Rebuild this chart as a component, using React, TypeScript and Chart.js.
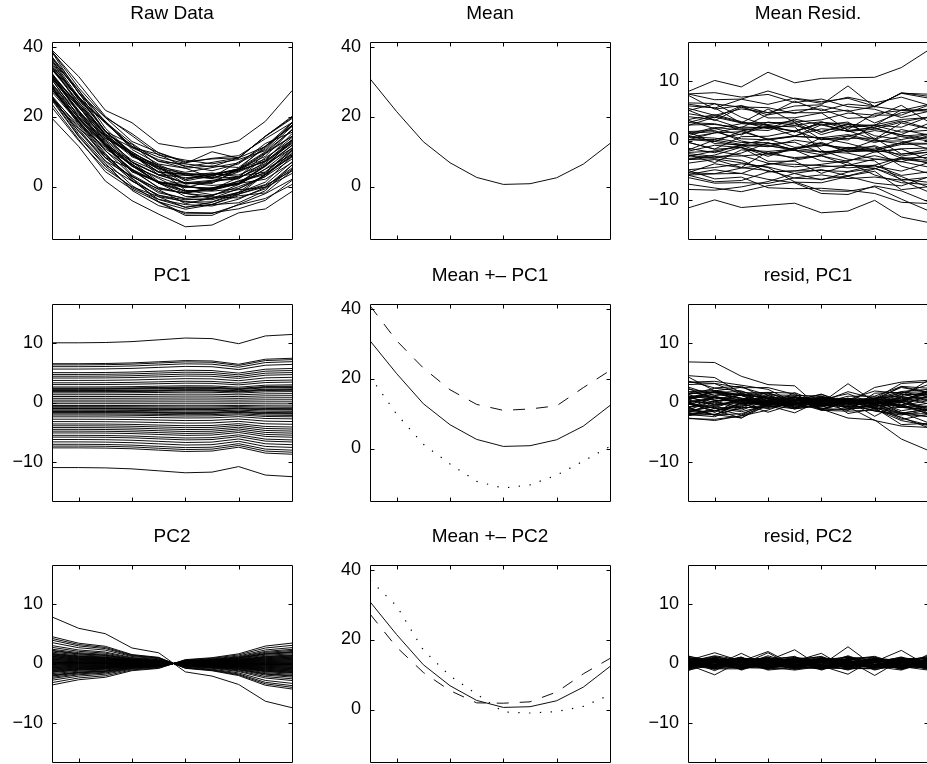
import React, { useEffect, useRef } from "react";
import { Chart, registerables } from "chart.js";

Chart.register(...registerables);

// ---------- data ----------
const xValues = [1, 2, 3, 4, 5, 6, 7, 8, 9, 10];
const xTickValues = [2, 4, 6, 8];
const levelTicks = [0, 20, 40];
const residTicks = [-10, 0, 10];

const meanCurve = [30.8, 21.4, 12.8, 6.8, 2.6, 0.6, 0.8, 2.5, 6.4, 12.3];
const meanPlusPC1 = [40.8, 30.8, 23.0, 16.8, 12.6, 10.9, 11.3, 12.2, 17.4, 22.3];
const meanMinusPC1 = [20.6, 9.8, 1.2, -4.4, -9.4, -11.3, -10.4, -7.6, -3.6, 0.6];
const meanPlusPC2 = [27.3, 17.8, 10.6, 5.4, 1.9, 1.8, 2.2, 5.0, 10.2, 14.6];
const meanMinusPC2 = [37.0, 29.6, 17.0, 9.6, 4.4, -0.7, -1.0, -0.6, 0.9, 4.2];

// shape of each component (value relative to x = 1)
const pc1Shape = [1.0, 1.0, 1.005, 1.02, 1.05, 1.08, 1.07, 0.985, 1.115, 1.14];
const pc2Shape = [1.0, 0.756, 0.64, 0.333, 0.23, -0.18, -0.27, -0.45, -0.81, -0.95];

// component value of each curve at x = 1
const pc1Scores = [
  10.0, 6.5, 6.3, 6.0, 5.6, 5.0, 4.7, 4.4, 4.1, 3.7, 3.3, 3.0, 2.6, 2.4, 2.3, 2.2, 2.0, 1.9,
  1.8, 1.6, 1.3, 1.0, 0.7, 0.4, 0.1, -0.2, -0.5, -0.7, -0.9, -1.0, -1.1, -1.3, -1.5, -1.6,
  -1.7, -1.9, -2.1, -2.4, -2.8, -3.2, -3.6, -3.9, -4.2, -4.5, -4.8, -5.1, -5.5, -5.8, -6.2,
  -6.6, -7.0, -7.3, -7.6, -10.9,
];
const pc2Scores = [
  -2.3, 1.1, -0.5, 2.4, -1.3, 0.3, -2.8, 1.5, 0.0, -0.9, 3.5, -1.7, 0.7, -0.3, 1.9, -2.1, 0.4,
  -0.7, 1.3, -1.1, 4.2, 0.1, -1.5, 0.9, -3.6, 2.1, 7.8, -0.4, 1.7, -1.9, 0.6, -0.1, 3.0, -1.2,
  0.8, -2.5, 1.0, -0.6, 4.5, 0.2, -1.4, 2.7, -0.8, 1.4, -2.0, 0.5, -3.2, 1.2, -0.2, 3.9, -1.0,
  1.6, 2.2, 0.2,
];

// residual after removing mean, PC1 and PC2
const residPC2Curves = [
  [0.5, 1.8, 0.4, 2.0, -0.3, -0.8, -0.8, -0.3, -0.8, 1.5],
  [0.2, -0.5, -0.3, 1.3, -0.1, -0.6, 0.6, 0.4, 0.9, -0.4],
  [0.3, -0.5, 0.9, -0.2, 0.6, -0.4, 0.2, -0.7, 0.5, 0.1],
  [-0.6, 0.2, -0.3, 0.8, -0.5, 0.9, -0.1, 0.4, -0.9, 0.3],
  [1.1, -0.4, 0.5, -0.6, 0.2, -0.3, 2.8, -0.5, 0.7, -0.2],
  [-0.2, -1.9, 0.4, 0.3, -0.8, 0.5, -0.4, 0.9, -0.3, 0.6],
  [0.7, 0.1, -0.8, 0.5, 2.3, -0.6, 0.3, -0.2, 0.4, -0.9],
  [-0.9, 0.6, 0.2, -0.7, 0.1, 0.8, -0.6, 0.3, 2.2, -0.4],
  [0.4, -0.3, 1.7, -0.4, -0.5, 0.2, 0.7, -1.1, 0.1, 0.5],
  [-0.3, 0.9, -0.2, 1.8, -0.6, -0.7, 0.4, 0.2, -0.6, 0.8],
  [0.8, -0.7, 0.3, 0.1, 0.4, 1.7, -0.9, 0.5, -0.2, -0.5],
  [-0.5, 0.3, -1.0, 0.6, -0.2, -0.4, -1.8, 0.8, 0.3, 0.2],
  [0.2, 1.2, 0.1, -0.9, 0.7, -0.1, 0.5, -2.0, 0.6, -0.3],
  [1.3, -0.2, 0.6, 0.2, -1.0, 0.4, -0.3, 0.1, -0.7, 0.9],
  [-1.2, 0.4, -0.5, -0.3, 0.5, -0.8, 0.9, 0.6, -0.1, -0.6],
  [0.1, -0.8, 0.7, 0.9, -0.4, 0.3, -0.2, -0.6, 1.0, 0.4],
  [0.6, 0.5, -0.4, -0.5, 0.8, -1.1, 0.2, 0.7, -0.5, -0.2],
  [-0.7, -0.1, 0.8, 0.4, -0.2, 0.6, -0.7, -0.3, 0.4, 1.1],
  [0.9, 0.7, -0.6, -0.1, 0.3, -0.2, 1.1, -0.4, -0.8, 0.2],
  [-0.4, -0.6, 0.2, 1.1, -0.7, 0.7, -0.5, 0.2, 0.6, -0.8],
  [0.3, 1.0, -1.1, 0.3, 0.6, -0.5, 0.1, 1.0, -0.3, 0.5],
  [-1.0, 0.2, 0.4, -0.8, -0.3, 0.9, 0.6, -0.8, 0.8, -0.1],
  [0.5, -1.0, 0.9, 0.5, 1.2, -0.9, -0.4, 0.3, -1.0, 0.6],
  [-0.1, 0.4, -0.7, -0.6, 0.1, 0.2, 0.8, -0.1, 0.2, -1.0],
  [1.0, -0.3, 0.1, 0.7, -0.9, -0.3, -1.0, 0.9, 0.5, 0.3],
  [-0.8, 0.8, 0.6, -0.4, 0.4, 1.0, 0.3, -0.5, -0.4, 0.7],
  [-1.0, 0.8, -0.6, 0.4, 1.0, 0.3, -0.5, 0.6, 0.2, -0.6],
  [-0.5, 1.1, 0.3, -0.2, 0.9, 0.1, -0.8, -0.9, 0.1, 1.0],
  [0.7, -0.9, -0.9, 0.6, -0.6, 0.5, 0.2, 0.6, -0.6, -0.7],
  [-0.3, 0.0, 1.1, -1.0, 0.2, -0.2, 1.3, -0.2, 0.3, 0.4],
  [1.2, 0.5, -0.2, 0.0, -0.4, 0.8, -0.6, 0.5, -0.9, -0.1],
  [-0.6, -0.4, 0.5, 0.8, 1.1, -0.7, 0.0, -0.4, 0.7, 0.8],
  [0.0, 0.9, -0.5, -0.3, -0.8, 0.3, 0.7, 1.2, -0.2, -0.9],
  [0.4, -1.2, 0.8, 0.2, 0.5, 1.2, -0.5, -0.7, 0.4, 0.2],
  [-0.9, 0.3, 0.0, -0.7, 0.0, -0.4, 0.9, 0.1, 1.1, -0.5],
  [0.6, 0.6, -1.0, 0.9, -0.5, -0.9, -0.2, 0.8, -0.5, 0.6],
  [-0.2, -0.7, 0.7, -0.5, 0.7, 0.6, 0.4, -0.6, 0.0, -0.3],
  [0.8, 0.2, 0.2, 0.4, -0.2, -0.1, -1.1, 0.2, 0.8, 0.9],
  [-1.1, -0.2, -0.4, 1.0, 0.3, 0.4, 0.5, -1.0, -0.3, 0.1],
  [0.3, 1.3, 0.6, -0.6, -1.1, -0.5, 0.1, 0.7, 0.2, -0.6],
  [-0.4, -0.9, -0.1, 0.1, 0.8, 1.1, -0.7, -0.2, -0.7, 0.5],
  [0.9, 0.4, 1.0, -0.4, 0.0, -0.8, 0.8, 0.4, 0.5, -0.8],
  [-0.7, -0.1, -0.8, 0.7, 0.6, 0.2, -0.3, -0.5, -1.1, 0.3],
  [0.1, 0.7, 0.3, -1.1, -0.7, 0.7, 1.0, 0.9, 0.3, 1.2],
  [1.0, -0.6, -0.6, 0.3, 0.4, -0.2, -0.6, -0.3, 0.9, -0.2],
  [-0.3, 0.2, 0.9, 0.6, -0.3, -1.0, 0.3, 0.6, -0.4, -0.7],
  [0.5, -0.4, -0.2, -0.2, 1.0, 0.5, -0.9, -0.8, 0.6, 0.4],
  [-0.8, 1.0, 0.5, 0.5, -0.5, 0.0, 0.6, 1.1, -0.8, 0.0],
  [0.2, -0.8, -0.7, -0.8, 0.3, 0.9, 0.2, -0.1, 0.1, 0.7],
  [-0.5, 0.6, 0.4, 0.9, -0.9, -0.6, -0.4, 0.5, 0.7, -0.5],
  [0.7, -0.2, -0.9, -0.1, 0.6, 0.3, 1.2, -0.7, -0.6, 0.9],
  [-0.1, 0.5, 0.8, 0.4, 0.2, -0.7, -0.8, 0.3, 1.0, -0.4],
  [0.4, -0.5, 0.1, -0.9, -0.6, 0.6, 0.4, -0.4, -0.1, 0.2],
  [-0.6, 0.8, -0.4, 0.2, 0.9, -0.3, -0.1, 0.8, -0.5, -1.1],
];

// ---------- tables built from the arrays ----------
const pc1Curves = pc1Scores.map((s) => pc1Shape.map((v) => s * v));
const pc2Curves = pc2Scores.map((s) => pc2Shape.map((v) => s * v));
const residPC1Curves = residPC2Curves.map((r, i) => r.map((v, j) => v + pc2Curves[i][j]));
const meanResidCurves = residPC1Curves.map((r, i) => r.map((v, j) => v + pc1Curves[i][j]));
const rawCurves = meanResidCurves.map((r) => r.map((v, j) => v + meanCurve[j]));

// ---------- layout ----------
const FONT = "'Liberation Sans', Arial, sans-serif";
const COL_LEFT = [52, 370, 688];
const ROW_TOP = [42, 304, 565];
const PLOT_W = 240;
const PLOT_H = 197;
const AXIS_W = 52;
const TITLE_H = 42;
const PAD = 3;
const TITLE_SIZE = 19;

const DASHED = [12, 11];
const DOTTED = [1.3, 9.5];

type Line = { values: number[]; dash?: number[]; width?: number };
type PanelSpec = {
  title: string;
  col: number;
  row: number;
  lines: Line[];
  yMin: number;
  yMax: number;
  yTicks: number[];
};

const many = (curves: number[][]): Line[] => curves.map((c) => ({ values: c }));

const panels: PanelSpec[] = [
  { title: "Raw Data", col: 0, row: 0, lines: many(rawCurves), yMin: -15, yMax: 41.3, yTicks: levelTicks },
  { title: "Mean", col: 1, row: 0, lines: [{ values: meanCurve }], yMin: -15, yMax: 41.3, yTicks: levelTicks },
  { title: "Mean Resid.", col: 2, row: 0, lines: many(meanResidCurves), yMin: -16.5, yMax: 16.5, yTicks: residTicks },
  { title: "PC1", col: 0, row: 1, lines: many(pc1Curves), yMin: -16.5, yMax: 16.5, yTicks: residTicks },
  {
    title: "Mean +– PC1",
    col: 1,
    row: 1,
    lines: [
      { values: meanCurve },
      { values: meanPlusPC1, dash: DASHED },
      { values: meanMinusPC1, dash: DOTTED, width: 1.2 },
    ],
    yMin: -15,
    yMax: 41.3,
    yTicks: levelTicks,
  },
  { title: "resid, PC1", col: 2, row: 1, lines: many(residPC1Curves), yMin: -16.5, yMax: 16.5, yTicks: residTicks },
  { title: "PC2", col: 0, row: 2, lines: many(pc2Curves), yMin: -16.5, yMax: 16.5, yTicks: residTicks },
  {
    title: "Mean +– PC2",
    col: 1,
    row: 2,
    lines: [
      { values: meanCurve },
      { values: meanPlusPC2, dash: DASHED },
      { values: meanMinusPC2, dash: DOTTED, width: 1.2 },
    ],
    yMin: -15,
    yMax: 41.3,
    yTicks: levelTicks,
  },
  { title: "resid, PC2", col: 2, row: 2, lines: many(residPC2Curves), yMin: -16.5, yMax: 16.5, yTicks: residTicks },
];

const framePlugin = {
  id: "matlabFrame",
  afterDatasetsDraw(chart: any) {
    const { ctx, chartArea: a, scales } = chart;
    const ys = scales.y;
    const xs = scales.x;
    const L = Math.round(a.left) + 0.5;
    const R = Math.round(a.right) + 0.5;
    const T = Math.round(a.top) + 0.5;
    const B = Math.round(a.bottom) + 0.5;
    const tl = 4;
    ctx.save();
    ctx.strokeStyle = "#000";
    ctx.lineWidth = 1;
    ctx.beginPath();
    ctx.rect(L, T, R - L, B - T);
    for (const t of ys.ticks) {
      const py = Math.round(ys.getPixelForValue(t.value)) + 0.5;
      ctx.moveTo(L, py);
      ctx.lineTo(L + tl, py);
      ctx.moveTo(R, py);
      ctx.lineTo(R - tl, py);
    }
    for (const v of xTickValues) {
      const px = Math.round(xs.getPixelForValue(v)) + 0.5;
      ctx.moveTo(px, T);
      ctx.lineTo(px, T + tl);
      ctx.moveTo(px, B);
      ctx.lineTo(px, B - tl);
    }
    ctx.stroke();
    ctx.restore();
  },
};

const fmt = (v: number) => (v < 0 ? "\u2212" + Math.abs(v) : String(v));

function Panel({ spec }: { spec: PanelSpec }) {
  const ref = useRef<HTMLCanvasElement>(null);
  const W = AXIS_W + PLOT_W + PAD;
  const H = TITLE_H + PLOT_H + PAD;
  const left = COL_LEFT[spec.col] - AXIS_W;
  const top = ROW_TOP[spec.row] - TITLE_H;

  useEffect(() => {
    const canvas = ref.current;
    if (!canvas) return;
    const chart = new Chart(canvas, {
      type: "line",
      data: {
        datasets: spec.lines.map((ln) => ({
          data: ln.values.map((y, i) => ({ x: xValues[i], y })),
          borderColor: "#000",
          borderWidth: ln.width ?? 0.95,
          borderDash: ln.dash ?? [],
          pointRadius: 0,
          fill: false,
          tension: 0,
        })),
      },
      options: {
        animation: false,
        responsive: false,
        maintainAspectRatio: false,
        devicePixelRatio: 1,
        events: [],
        layout: { padding: { left: 0, top: 0, right: PAD, bottom: PAD } },
        plugins: {
          legend: { display: false },
          tooltip: { enabled: false },
          title: {
            display: true,
            text: spec.title,
            fullSize: false,
            align: "center",
            color: "#000",
            font: { family: FONT, size: TITLE_SIZE, weight: "normal", lineHeight: 1.2 },
            padding: { top: 2, bottom: TITLE_H - 2 - TITLE_SIZE * 1.2 },
          },
        },
        scales: {
          x: {
            type: "linear",
            display: false,
            min: 1,
            max: 10,
          },
          y: {
            type: "linear",
            min: spec.yMin,
            max: spec.yMax,
            grid: { display: false, drawTicks: false },
            border: { display: false },
            ticks: {
              color: "#000",
              font: { family: FONT, size: 18 },
              padding: 9,
              callback: (v: any) => fmt(Number(v)),
            },
            afterBuildTicks: (scale: any) => {
              scale.ticks = spec.yTicks.map((v) => ({ value: v }));
            },
            afterFit: (scale: any) => {
              scale.width = AXIS_W;
              scale.paddingTop = 0;
              scale.paddingBottom = 0;
            },
          },
        },
      } as any,
      plugins: [framePlugin],
    });
    return () => chart.destroy();
  }, [spec]);

  return (
    <canvas
      ref={ref}
      width={W}
      height={H}
      style={{ position: "absolute", left, top, width: W, height: H, display: "block" }}
    />
  );
}

export default function App() {
  return (
    <div
      style={{
        position: "absolute",
        left: 0,
        top: 0,
        width: 927,
        height: 764,
        overflow: "hidden",
        background: "#fff",
      }}
    >
      {panels.map((p) => (
        <Panel key={p.title} spec={p} />
      ))}
    </div>
  );
}
